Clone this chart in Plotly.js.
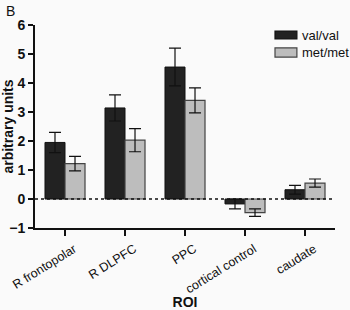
<!DOCTYPE html>
<html><head><meta charset="utf-8">
<script src="https://cdn.plot.ly/plotly-3.0.1.min.js"></script>
<style>html,body{margin:0;padding:0;background:#fafafa}</style>
</head><body><div id="chart" style="width:350px;height:310px"></div>
<script>
const categories = ["R frontopolar", "R DLPFC", "PPC", "cortical control", "caudate"];
const seriesNames = ["val/val", "met/met"];
const valval = [1.95, 3.14, 4.55, -0.17, 0.32];
const valvalErr = [0.35, 0.45, 0.65, 0.17, 0.15];
const metmet = [1.22, 2.03, 3.40, -0.47, 0.55];
const metmetErr = [0.25, 0.40, 0.43, 0.13, 0.14];
const yTicks = [-1, 0, 1, 2, 3, 4, 5, 6];

const fills = ["#222222", "#bdbdbd"];
const edges = ["#111111", "#444444"];

const traces = [
  {type: "bar", name: seriesNames[0], x: categories, y: valval,
   marker: {color: fills[0], line: {color: edges[0], width: 1}},
   error_y: {type: "data", array: valvalErr, visible: true, color: "#111", thickness: 1.2, width: 6}},
  {type: "bar", name: seriesNames[1], x: categories, y: metmet,
   marker: {color: fills[1], line: {color: edges[1], width: 1.2}},
   error_y: {type: "data", array: metmetErr, visible: true, color: "#111", thickness: 1.2, width: 6}}
];

const legY = [[0.931, 0.970], [0.842, 0.887]];
const legendShapes = seriesNames.map((n, i) => ({
  type: "rect", xref: "paper", yref: "paper", x0: 0.8, x1: 0.873,
  y0: legY[i][0], y1: legY[i][1], fillcolor: fills[i],
  line: {color: edges[i], width: 1.2}
}));
const legendText = seriesNames.map((n, i) => ({
  text: n, xref: "paper", yref: "paper", x: 0.882, y: (legY[i][0] + legY[i][1]) / 2,
  xanchor: "left", yanchor: "middle", showarrow: false, font: {size: 13}
}));

const layout = {
  width: 350, height: 310,
  margin: {l: 35, r: 15, t: 25, b: 82},
  paper_bgcolor: "#fafafa", plot_bgcolor: "#fafafa",
  font: {family: "Liberation Sans, Arial, sans-serif", color: "#111"},
  barmode: "group", bargap: 0.333, bargroupgap: 0,
  showlegend: false,
  xaxis: {range: [-0.5, 4.5], showline: true, linecolor: "#111", linewidth: 2,
          ticks: "outside", ticklen: 6, tickwidth: 2, tickcolor: "#111",
          tickangle: -32, tickfont: {size: 12.5}, ticklabelshift: 9, ticklabelstandoff: 1,
          showgrid: false, zeroline: false, automargin: false,
          title: {text: "<b>ROI</b>", font: {size: 14}, standoff: 14}},
  yaxis: {range: [-1, 6], tickvals: yTicks, showline: true, linecolor: "#111", linewidth: 2,
          ticks: "outside", ticklen: 5, tickwidth: 2, tickcolor: "#111",
          tickfont: {size: 14, weight: "bold"}, showgrid: false, zeroline: false,
          title: {text: "<b>arbitrary units</b>", font: {size: 14}, standoff: 3}},
  shapes: [{type: "line", xref: "paper", x0: 0, x1: 1, yref: "y", y0: 0, y1: 0,
            line: {color: "#111", width: 1.5, dash: "dot"}, layer: "above"}].concat(legendShapes),
  annotations: [{text: "B", xref: "paper", yref: "paper", x: -0.105, y: 1.07,
                 xanchor: "left", yanchor: "middle", showarrow: false, font: {size: 14}}].concat(legendText)
};
Plotly.newPlot("chart", traces, layout, {displayModeBar: false, staticPlot: true});
</script></body></html>
